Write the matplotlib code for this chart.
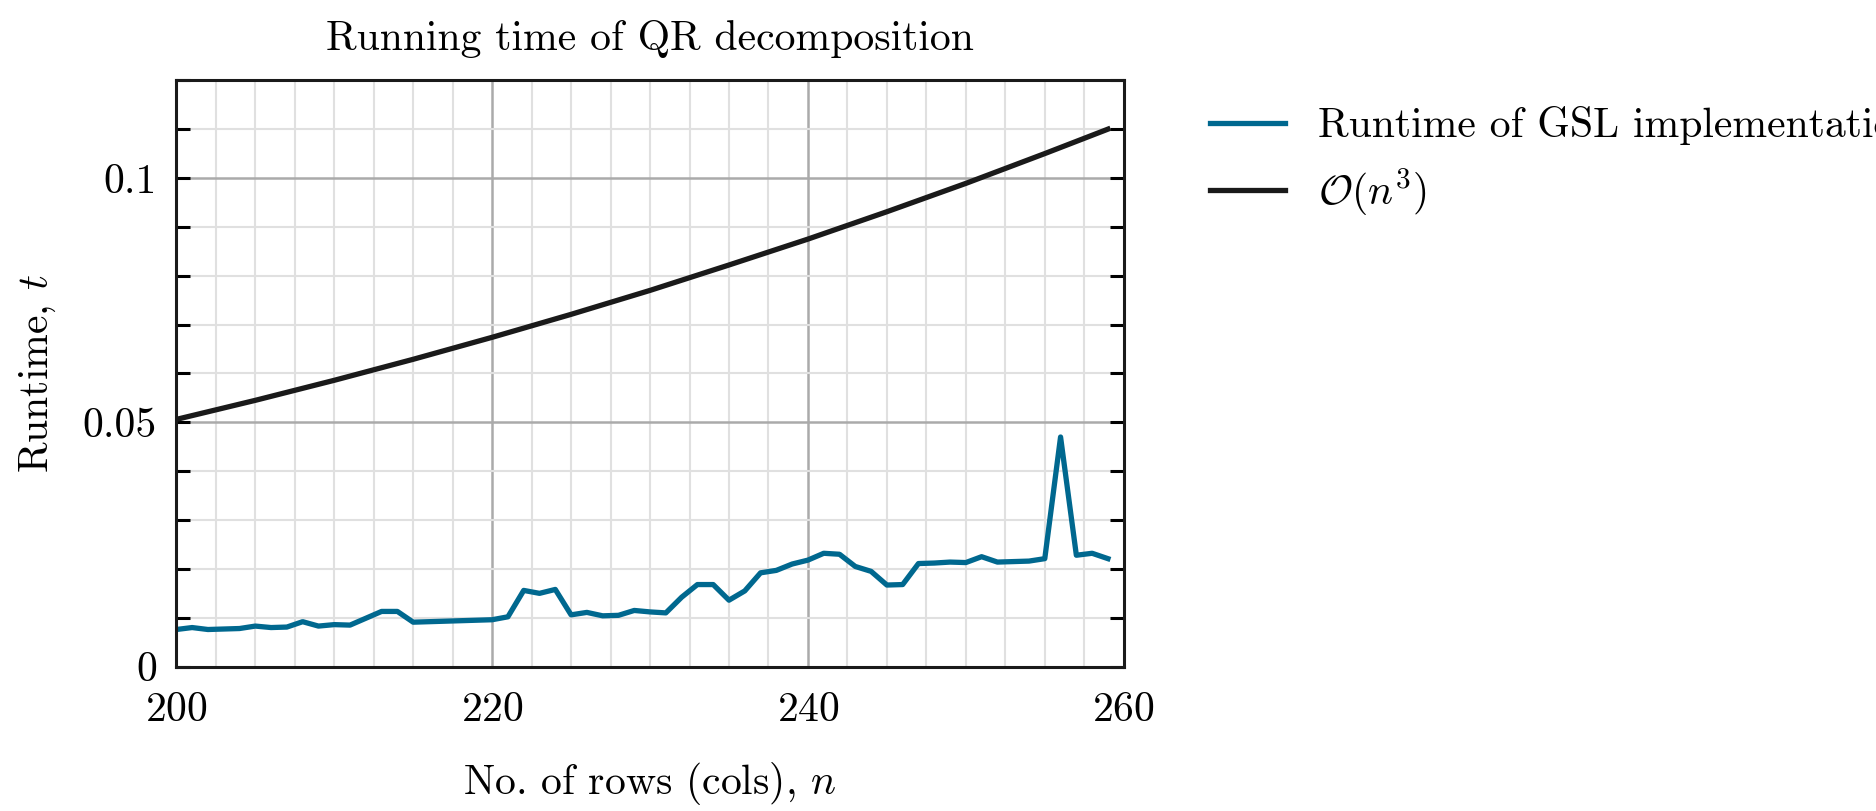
import numpy as np
import matplotlib
matplotlib.use('Agg')
import matplotlib.pyplot as plt
from matplotlib.ticker import MultipleLocator

plt.rcParams['font.family'] = 'serif'
plt.rcParams['font.serif'] = ['cmr10', 'DejaVu Serif']
plt.rcParams['mathtext.fontset'] = 'cm'
plt.rcParams['axes.formatter.use_mathtext'] = True

# measured runtime of GSL QR
n_gsl = np.arange(200, 260)
t_gsl = [0.0076, 0.0080, 0.0076, 0.0077, 0.0078, 0.0083, 0.0080, 0.0081, 0.0092, 0.0083,
         0.0086, 0.0085, 0.0099, 0.0113, 0.0113, 0.0091, 0.0092, 0.0093, 0.0094, 0.0095,
         0.0096, 0.0102, 0.0156, 0.0150, 0.0158, 0.0106, 0.0111, 0.0104, 0.0105, 0.0115,
         0.0112, 0.0110, 0.0142, 0.0168, 0.0168, 0.0136, 0.0155, 0.0192, 0.0197, 0.0210,
         0.0218, 0.0232, 0.0230, 0.0205, 0.0195, 0.0167, 0.0168, 0.0211, 0.0212, 0.0214,
         0.0213, 0.0225, 0.0214, 0.0215, 0.0216, 0.0221, 0.0470, 0.0228, 0.0232, 0.0221]

# O(n^3) reference curve
n_ref = [200, 205, 210, 215, 220, 225, 230, 235, 240, 245, 250, 255, 259]
t_ref = [0.0506, 0.0545, 0.0586, 0.0629, 0.0674, 0.0721, 0.0770, 0.0822, 0.0875,
         0.0931, 0.0989, 0.1050, 0.1100]

fig = plt.figure(figsize=(18.76, 8.11), dpi=100)
ax = fig.add_axes([0.094, 0.178, 0.505, 0.723])

ax.plot(n_gsl, t_gsl, color='#00688f', lw=3.8, label='Runtime of GSL implementation')
ax.plot(n_ref, t_ref, color='#1a1a1a', lw=3.8, label=r'$\mathcal{O}(n^3)$')

ax.set_xlim(200, 260)
ax.set_ylim(0, 0.12)
ax.xaxis.set_major_locator(MultipleLocator(20))
ax.xaxis.set_minor_locator(MultipleLocator(2.5))
ax.yaxis.set_major_locator(MultipleLocator(0.05))
ax.yaxis.set_minor_locator(MultipleLocator(0.01))
ax.set_yticks([0, 0.05, 0.1])
ax.set_yticklabels(['0', '0.05', '0.1'])
ax.grid(which='major', color='#aaaaaa', lw=1.8)
ax.grid(which='minor', color='#e0e0e0', lw=1.5)
ax.set_axisbelow(True)
ax.tick_params(which='both', direction='in', right=True, labelsize=30,
               width=2.2, pad=14)
ax.tick_params(which='major', length=10)
ax.tick_params(which='minor', length=10)
ax.tick_params(axis='x', which='both', length=0, pad=18)
for s in ax.spines.values():
    s.set_linewidth(2.2)
    s.set_color('#1a1a1a')

ax.set_xlabel(r'No. of rows (cols), $n$', fontsize=30, labelpad=22)
ax.set_ylabel(r'Runtime, $t$', fontsize=30, labelpad=18)
ax.set_title('Running time of QR decomposition', fontsize=30, pad=22)
fig.legend(loc='upper left', bbox_to_anchor=(0.625, 0.915), frameon=False,
           fontsize=30, handlelength=1.8, labelspacing=0.5)

fig.savefig('out.png', dpi=100)
